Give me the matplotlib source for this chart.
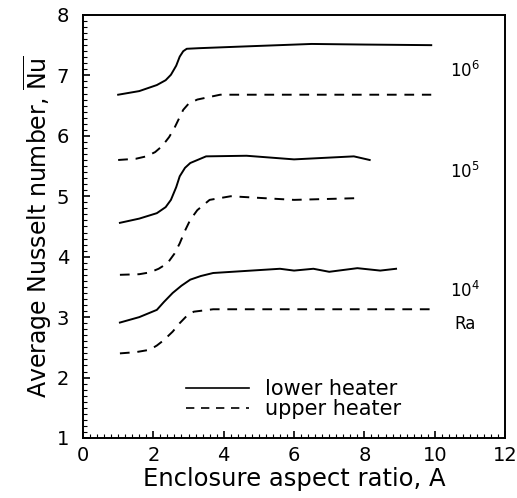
import matplotlib
matplotlib.use("Agg")
import matplotlib.pyplot as plt
from matplotlib.ticker import MultipleLocator

# ── Data ─────────────────────────────────────────────────────────────────────
# Ra = 1e6
a_lo6 = [1.0, 1.6, 2.1, 2.35, 2.5, 2.65, 2.75, 2.85, 2.95, 3.3, 4.65, 6.5, 8.0, 9.9]
nu_lo6 = [6.68, 6.74, 6.84, 6.92, 7.01, 7.16, 7.31, 7.40, 7.44, 7.45, 7.48, 7.52, 7.51, 7.50]
a_up6 = [1.0, 1.5, 1.8, 2.05, 2.25, 2.45, 2.6, 2.75, 2.85, 3.0, 3.25, 3.9, 6.0, 8.0, 9.9]
nu_up6 = [5.60, 5.62, 5.66, 5.73, 5.83, 5.98, 6.13, 6.31, 6.43, 6.53, 6.60, 6.68, 6.68, 6.68, 6.68]

# Ra = 1e5
a_lo5 = [1.05, 1.6, 2.1, 2.35, 2.5, 2.65, 2.75, 2.9, 3.05, 3.5, 4.65, 6.0, 7.7, 8.15]
nu_lo5 = [4.56, 4.63, 4.72, 4.82, 4.94, 5.15, 5.33, 5.47, 5.55, 5.66, 5.67, 5.61, 5.66, 5.60]
a_up5 = [1.05, 1.6, 1.9, 2.15, 2.4, 2.6, 2.75, 2.9, 3.05, 3.25, 3.6, 4.2, 6.0, 7.9]
nu_up5 = [3.70, 3.71, 3.74, 3.80, 3.89, 4.05, 4.22, 4.43, 4.61, 4.77, 4.94, 5.00, 4.94, 4.97]

# Ra = 1e4
a_lo4 = [1.05, 1.6, 2.1, 2.3, 2.55, 2.8, 3.05, 3.35, 3.7, 5.6, 6.0, 6.55, 7.0, 7.8, 8.45, 8.9]
nu_lo4 = [2.91, 3.00, 3.12, 3.25, 3.40, 3.52, 3.62, 3.68, 3.73, 3.80, 3.77, 3.80, 3.75, 3.81, 3.77, 3.80]
a_up4 = [1.05, 1.5, 1.9, 2.1, 2.3, 2.55, 2.75, 2.95, 3.15, 3.7, 6.0, 9.9]
nu_up4 = [2.40, 2.42, 2.46, 2.53, 2.62, 2.76, 2.90, 3.02, 3.09, 3.13, 3.13, 3.13]

ra_labels = ["10$^6$", "10$^5$", "10$^4$", "Ra"]
ra_label_y = [7.07, 5.40, 3.43, 2.88]

# ── Figure ────────────────────────────────────────────────────────────────────
fig = plt.figure(figsize=(5.17, 4.98), dpi=100)
ax = fig.add_axes([0.1605, 0.1205, 0.8165, 0.8495])

dash = (0, (5, 4))
for a, nu in [(a_lo6, nu_lo6), (a_lo5, nu_lo5), (a_lo4, nu_lo4)]:
    ax.plot(a, nu, color="black", lw=1.4)
for a, nu in [(a_up6, nu_up6), (a_up5, nu_up5), (a_up4, nu_up4)]:
    ax.plot(a, nu, color="black", lw=1.4, linestyle=dash)

for txt, yv in zip(ra_labels, ra_label_y):
    ax.text(10.85, yv, txt, ha="center", va="center", fontsize=12)

# legend entries
ax.plot([], [], color="black", lw=1.2, label="lower heater")
ax.plot([], [], color="black", lw=1.2, linestyle=dash, label="upper heater")
handles, labels = ax.get_legend_handles_labels()
ax.legend(handles[-2:], labels[-2:], frameon=False, fontsize=15,
          loc="lower left", bbox_to_anchor=(0.2, 0.0),
          handlelength=3.0, handletextpad=0.8, labelspacing=0.0)

ax.set_xlim(0, 12)
ax.set_ylim(1, 8)
ax.xaxis.set_major_locator(MultipleLocator(2))
ax.xaxis.set_minor_locator(MultipleLocator(0.2))
ax.yaxis.set_major_locator(MultipleLocator(1))
ax.yaxis.set_minor_locator(MultipleLocator(0.1))
ax.tick_params(which="both", direction="in", labelsize=14)
ax.tick_params(which="major", length=5, width=1.2)
ax.tick_params(which="minor", length=3, width=0.8)
ax.tick_params(axis="x", pad=6)
ax.tick_params(axis="y", pad=10)
for s in ax.spines.values():
    s.set_linewidth(1.4)

ax.set_xlabel("Enclosure aspect ratio, A", fontsize=17.5, labelpad=1)
ax.set_ylabel(r"Average Nusselt number, $\overline{\mathrm{Nu}}$", fontsize=17,
              labelpad=2)

fig.savefig("out.png", dpi=100)
